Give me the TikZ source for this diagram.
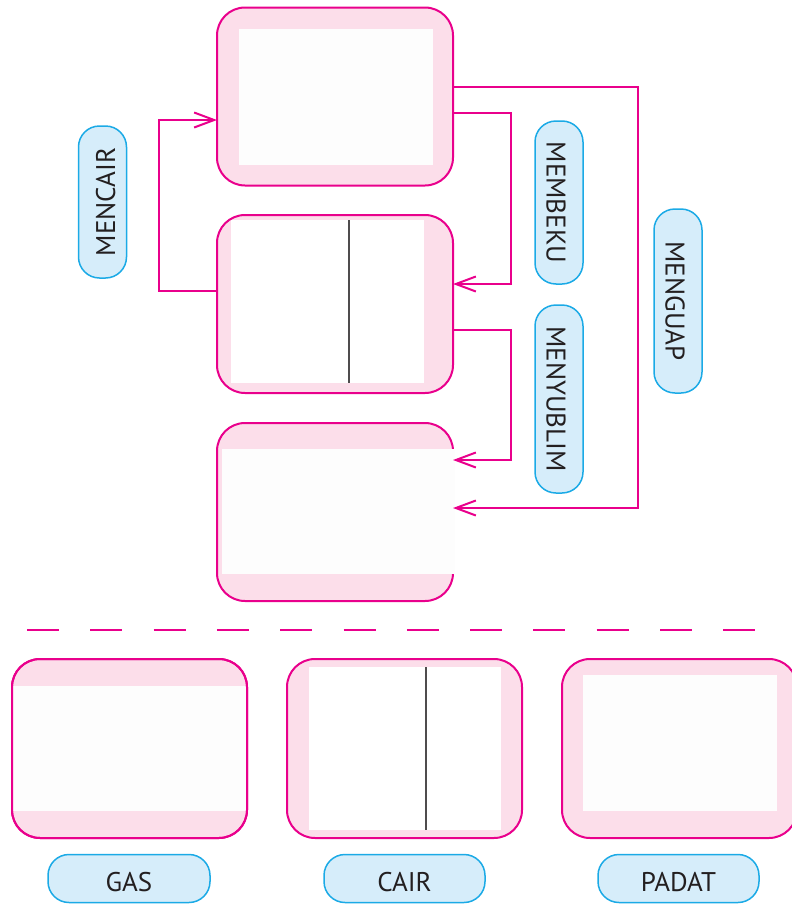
\documentclass[tikz,border=0pt]{standalone}
\usepackage{fontspec}
\setmainfont{PT Sans}
\usetikzlibrary{arrows.meta}
\definecolor{pinkline}{RGB}{233,0,140}
\definecolor{pinkfill}{RGB}{252,222,234}
\definecolor{innerwhite}{RGB}{253,253,253}
\definecolor{bluefill}{RGB}{214,237,250}
\definecolor{blueline}{RGB}{27,170,230}
\definecolor{txt}{RGB}{35,31,32}
\tikzset{
  statebox/.style={draw=pinkline, fill=pinkfill, line width=2pt, rounded corners=28pt,
    minimum width=236pt, minimum height=178pt, inner sep=0pt, outer sep=0pt},
  lbl/.style={draw=blueline, fill=bluefill, line width=1.5pt, rounded corners=21pt,
    minimum height=48pt, inner sep=0pt, text=txt, font=\fontsize{27}{30}\selectfont,
    text height=25pt, text depth=0pt},
  conn/.style={draw=pinkline, line width=2pt, -{Straight Barb[length=20pt,width=15pt,line width=2pt]}},
  divider/.style={draw=txt!80, line width=1.4pt}
}
\begin{document}
\begin{tikzpicture}[x=1pt,y=-1pt]
\useasboundingbox (0,0) rectangle (792,905);
% top boxes
\node[statebox] (b1) at (335,96.5) {};
\fill[innerwhite] (239,29) rectangle (433,165);
\node[statebox] (b2) at (335,304) {};
\fill[white] (231,220) rectangle (424,383);
\draw[divider] (349,220) -- (349,383);
\node[statebox] (b3) at (335,512) {};
\fill[innerwhite] (222,449) rectangle (455,574);
% bottom boxes
\node[statebox, minimum width=235pt, minimum height=179pt] (gas) at (129.5,748.5) {};
\fill[innerwhite] (12,686) rectangle (247,811);
\draw[pinkline, line width=2pt, rounded corners=28pt] (gas.north west) rectangle (gas.south east);
\node[statebox, minimum width=235pt, minimum height=179pt] (cair) at (404.5,748.5) {};
\fill[white] (309,667) rectangle (501,830);
\draw[divider] (426,667) -- (426,830);
\node[statebox, minimum width=235pt, minimum height=179pt] (padat) at (679.5,748.5) {};
\fill[innerwhite] (583,675) rectangle (777,811);
% labels
\node[lbl, minimum width=152pt, rotate=90] (lcair) at (102.5,202) {MENCAIR};
\node[lbl, minimum width=163pt, rotate=-90] (lbeku) at (559,202.5) {MEMBEKU};
\node[lbl, minimum width=188pt, rotate=-90] (lyub) at (559,399) {MENYUBLIM};
\node[lbl, minimum width=184pt, rotate=-90] (luap) at (678,301) {MENGUAP};
\node[lbl, minimum width=162pt] (tgas) at (129,878.5) {GAS};
\node[lbl, minimum width=161pt] (tcair) at (404.5,878.5) {CAIR};
\node[lbl, minimum width=161pt] (tpadat) at (678.5,878.5) {PADAT};
% connectors
\draw[conn] ([yshift=13pt]b2.west) -- ++(-58,0) |- ([yshift=-23.5pt]b1.west);
\draw[conn] ([yshift=-16.5pt]b1.east) -- ++(58,0) |- ([yshift=20pt]b2.east);
\draw[conn] ([yshift=-26pt]b2.east) -- ++(58,0) |- ([yshift=52pt]b3.east);
\draw[conn] ([yshift=9.5pt]b1.east) -- ++(185,0) |- ([yshift=4pt]b3.east);
% dashed separator
\draw[pinkline, line width=2pt, dash pattern=on 32pt off 31.3pt] (27,630) -- (755,630);
\end{tikzpicture}
\end{document}
